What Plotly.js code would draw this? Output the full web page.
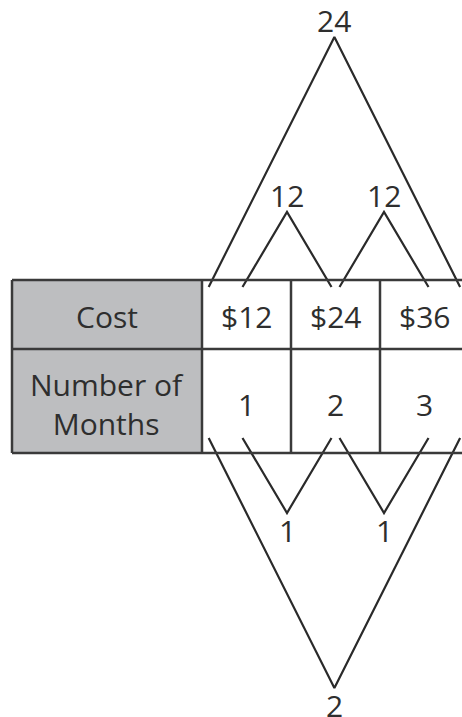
<!DOCTYPE html>
<html>
<head>
<meta charset="utf-8">
<script src="https://cdn.plot.ly/plotly-3.0.1.min.js"></script>
<style>html,body{margin:0;padding:0;background:#fff;}#chart{width:462px;height:717px;}</style>
</head>
<body>
<div id="chart"></div>
<script>
// ---- data ----
const rowLabels = ["Cost", "Number of<br>Months"];
const costs = ["$12", "$24", "$36"];
const months = ["1", "2", "3"];
// arcs above the table (between Cost cells)
const topFrom = [0, 1, 0];
const topTo = [1, 2, 2];
const topLabels = ["12", "12", "24"];
// arcs below the table (between Month cells)
const botFrom = [0, 1, 0];
const botTo = [1, 2, 2];
const botLabels = ["1", "1", "2"];

// ---- geometry / style ----
const W = 462, H = 717;
const colPx = 89, col0Px = 202;           // x axis unit = one table column
const headerLeft = (12 - col0Px) / colPx;  // grey header column left edge
const rightEdge = 3.3;                     // table runs off the right side
const rowY = [280, 349, 453];              // table row boundaries (y axis in px)
const topLegY = 287, botLegY = 438;
const rise = {1: 75, 2: 250};
const lineColor = "#2a2a2a", borderColor = "#3a3a3a", textColor = "#2e2e2e";
const fontFamily = "'Open Sans', 'Noto Sans', sans-serif";
const fontSize = 30;

function arcX(from, to) {
  const span = to - from;
  if (span === 1) {
    const s = 0.045 * (2 * from - 1);
    return [from + 0.5 + s, to + 0.5 + s];
  }
  return [from + 0.075, to + 0.9];
}

const traces = [];
const annotations = [];

function addArcs(froms, tos, labels, legY, dir) {
  froms.forEach((f, i) => {
    const t = tos[i];
    const [x0, x1] = arcX(f, t);
    const xm = (x0 + x1) / 2;
    const apex = legY + dir * rise[t - f];
    traces.push({
      type: "scatter", mode: "lines",
      x: [x0, xm, x1], y: [legY, apex, legY],
      line: {color: lineColor, width: 2.2},
      hoverinfo: "skip", showlegend: false
    });
    annotations.push({
      x: xm, y: apex + dir * 17, xref: "x", yref: "y",
      text: labels[i], showarrow: false,
      xanchor: "center", yanchor: "middle",
      font: {family: fontFamily, size: fontSize, color: textColor}
    });
  });
}
addArcs(topFrom, topTo, topLabels, topLegY, -1);
addArcs(botFrom, botTo, botLabels, botLegY, 1);

// table text
const rowCenters = [(rowY[0] + rowY[1]) / 2 + 2, (rowY[1] + rowY[2]) / 2 + 3];
rowLabels.forEach((lab, r) => {
  annotations.push({
    x: headerLeft / 2, y: rowCenters[r], xref: "x", yref: "y",
    text: lab, showarrow: false, xanchor: "center", yanchor: "middle",
    font: {family: fontFamily, size: fontSize, color: textColor}
  });
});
[costs, months].forEach((vals, r) => {
  vals.forEach((v, c) => {
    annotations.push({
      x: c + 0.5, y: rowCenters[r], xref: "x", yref: "y",
      text: v, showarrow: false, xanchor: "center", yanchor: "middle",
      font: {family: fontFamily, size: fontSize, color: textColor}
    });
  });
});

// table shapes
const shapes = [];
shapes.push({type: "rect", xref: "x", yref: "y", x0: headerLeft, x1: 0, y0: rowY[0], y1: rowY[2],
  fillcolor: "#bdbec0", line: {width: 0}, layer: "below"});
rowY.forEach(y => shapes.push({type: "line", xref: "x", yref: "y", x0: headerLeft, x1: rightEdge, y0: y, y1: y,
  line: {color: borderColor, width: 2.5}}));
[headerLeft, 0, 1, 2].forEach(x => shapes.push({type: "line", xref: "x", yref: "y", x0: x, x1: x, y0: rowY[0], y1: rowY[2],
  line: {color: borderColor, width: 2.5}}));

const layout = {
  width: W, height: H,
  margin: {l: 0, r: 0, t: 0, b: 0, pad: 0},
  paper_bgcolor: "#ffffff", plot_bgcolor: "#ffffff",
  xaxis: {range: [-col0Px / colPx, (W - col0Px) / colPx], visible: false, fixedrange: true},
  yaxis: {range: [H, 0], visible: false, fixedrange: true},
  shapes: shapes, annotations: annotations, showlegend: false
};

Plotly.newPlot("chart", traces, layout, {displayModeBar: false, staticPlot: true});
</script>
</body>
</html>
